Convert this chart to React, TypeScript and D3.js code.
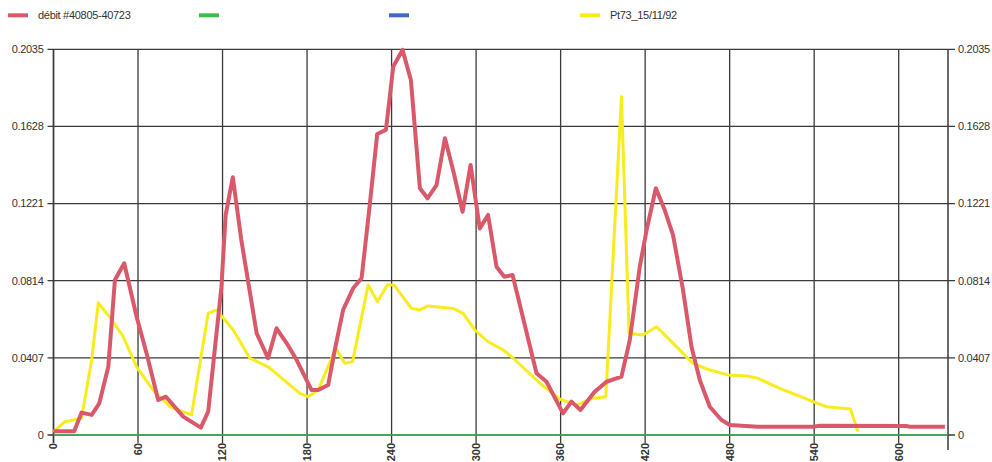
import React from "react";
import * as d3 from "d3";

const seriesNames = ["débit #40805-40723", "", "", "Pt73_15/11/92"];
const seriesColors = ["#d9596b", "#3dbb4c", "#4169c6", "#f8ec1e"];

const xTicks = [0, 60, 120, 180, 240, 300, 360, 420, 480, 540, 600];
const yTicks = [0, 0.0407, 0.0814, 0.1221, 0.1628, 0.2035];

const redX = [0, 14.7, 19.9, 27.1, 32.5, 38.9, 43.6, 50.2, 59, 66.1, 74.3, 79.8, 92.1, 104.6, 109.8, 119.2, 122.2, 127.3, 133.3, 144.2, 152.3, 158.3, 166.3, 172.3, 183.2, 187.9, 195, 199.7, 205.6, 212.7, 218.7, 224.6, 229.8, 236, 241.2, 247.8, 253.7, 260.1, 265.5, 271.9, 277.9, 284.2, 290.4, 296.1, 302.6, 308.5, 314.5, 320, 325.9, 342.9, 350, 361.7, 367.7, 374.1, 384.3, 392.6, 403.2, 409.1, 416.2, 421, 427.6, 433.9, 439.8, 446.9, 452.9, 458.8, 465.9, 474.2, 480.2, 500, 539.1, 544.1, 605.2, 608.2, 632.8];
const redY = [0.002, 0.002, 0.0118, 0.0106, 0.0167, 0.036, 0.0818, 0.0906, 0.0624, 0.043, 0.0185, 0.0202, 0.0097, 0.0039, 0.0123, 0.078, 0.116, 0.136, 0.103, 0.0537, 0.0405, 0.0563, 0.0475, 0.04, 0.0237, 0.0237, 0.0264, 0.0449, 0.066, 0.0774, 0.0827, 0.122, 0.1588, 0.161, 0.1944, 0.2032, 0.1873, 0.1302, 0.1249, 0.1319, 0.1566, 0.1381, 0.1178, 0.1425, 0.109, 0.1161, 0.0888, 0.0835, 0.0844, 0.0326, 0.0281, 0.0114, 0.0176, 0.0132, 0.0229, 0.0281, 0.0308, 0.0501, 0.0888, 0.108, 0.1302, 0.1187, 0.1055, 0.0765, 0.0466, 0.029, 0.0149, 0.0079, 0.0053, 0.0044, 0.0044, 0.0049, 0.0047, 0.0044, 0.0044];

const yellowX = [0, 8.1, 19.9, 27.1, 31.8, 41.3, 49.5, 59, 70.7, 82.7, 98, 109.8, 115.7, 127.6, 139.4, 152.4, 160.7, 174.9, 180.8, 187.9, 200.4, 206.8, 212.3, 223.4, 230, 236.9, 241.6, 254.2, 260.1, 265.9, 283.7, 290.8, 299.1, 308.5, 319.2, 326.4, 345.3, 359.4, 371.2, 383.1, 392.1, 403.2, 408.6, 418.5, 428.1, 439.8, 453.9, 465.9, 478.9, 492, 500, 515.6, 539.3, 548.7, 565.7, 571.1];
const yellowY = [0.0017, 0.007, 0.0088, 0.0396, 0.0698, 0.0607, 0.0519, 0.036, 0.0237, 0.0149, 0.0106, 0.0642, 0.066, 0.0554, 0.0405, 0.036, 0.0308, 0.022, 0.0202, 0.0237, 0.0457, 0.0378, 0.0387, 0.0792, 0.0703, 0.0792, 0.0792, 0.0668, 0.066, 0.0681, 0.0668, 0.0642, 0.0554, 0.0492, 0.0449, 0.0405, 0.0273, 0.019, 0.0158, 0.0194, 0.0202, 0.1785, 0.0537, 0.0528, 0.0571, 0.0484, 0.0378, 0.0343, 0.0317, 0.0311, 0.0299, 0.0246, 0.0176, 0.0149, 0.0137, 0.0017];

const greenX = [0, 635];
const greenY = [0, 0];

const W = 992;
const H = 462;
const left = 53.5;
const right = 948;
const top = 49.3;
const bottom = 435;
const font = "'Liberation Sans', Arial, sans-serif";
const textColor = "#333";
const gridColor = "#3a3a3a";

export default function App() {
  const x = d3.scaleLinear().domain([0, 635]).range([left, right]);
  const y = d3.scaleLinear().domain([0, 0.2035]).range([bottom, top]);
  const line = d3
    .line<[number, number]>()
    .x((d) => x(d[0]))
    .y((d) => y(d[1]));
  const zip = (a: number[], b: number[]) => a.map((v, i) => [v, b[i]] as [number, number]);

  const legendX = [8, 199, 389, 580];

  return (
    <svg
      width={W}
      height={H}
      style={{ position: "absolute", left: 0, top: 0, background: "#fff" }}
      fontFamily={font}
    >
      {/* legend */}
      {seriesNames.map((name, i) => (
        <g key={i}>
          <line x1={legendX[i]} x2={legendX[i] + 20} y1={15.3} y2={15.3} stroke={seriesColors[i]} strokeWidth={4} />
          {name && (
            <text x={legendX[i] + 30} y={19.2} fontSize={11} fill={textColor} letterSpacing={-0.3}>
              {name}
            </text>
          )}
        </g>
      ))}

      {/* horizontal grid + y ticks */}
      {yTicks.map((t) => (
        <g key={"y" + t}>
          <line x1={left - 6} x2={right + 7} y1={y(t)} y2={y(t)} stroke={gridColor} strokeWidth={1.3} />
          <text x={left - 10} y={y(t)} dy="0.35em" textAnchor="end" fontSize={11} fill={textColor} letterSpacing={-0.3}>
            {t}
          </text>
          <text x={right + 10} y={y(t)} dy="0.35em" textAnchor="start" fontSize={11} fill={textColor} letterSpacing={-0.3}>
            {t}
          </text>
        </g>
      ))}

      {/* vertical grid + x ticks */}
      {xTicks.map((t) => (
        <g key={"x" + t}>
          <line x1={x(t)} x2={x(t)} y1={top} y2={bottom + 8} stroke={gridColor} strokeWidth={1.3} />
          <text
            transform={`translate(${x(t)},${bottom + 8}) rotate(-90)`}
            textAnchor="end"
            dy="0.35em"
            fontSize={11}
            fontWeight="bold"
            fill={textColor}
          >
            {t}
          </text>
        </g>
      ))}
      <line x1={right} x2={right} y1={top} y2={bottom + 15} stroke={gridColor} strokeWidth={1.5} />
      <line x1={left} x2={left} y1={top} y2={bottom + 8} stroke={gridColor} strokeWidth={1.5} />

      {/* series */}
      <path d={line(zip(greenX, greenY)) || ""} fill="none" stroke={seriesColors[1]} strokeWidth={1.5} />
      <path
        d={line(zip(yellowX, yellowY)) || ""}
        fill="none"
        stroke={seriesColors[3]}
        strokeWidth={3}
        strokeLinejoin="round"
      />
      <path
        d={line(zip(redX, redY)) || ""}
        fill="none"
        stroke={seriesColors[0]}
        strokeWidth={4}
        strokeLinejoin="round"
      />
    </svg>
  );
}
